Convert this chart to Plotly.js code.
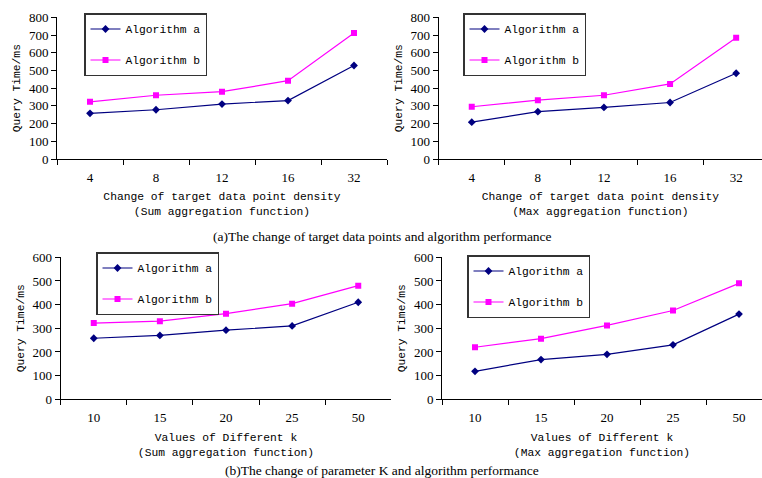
<!DOCTYPE html>
<html>
<head>
<meta charset="utf-8">
<script src="https://cdn.plot.ly/plotly-3.0.1.min.js"></script>
<style>html,body{margin:0;padding:0;background:#fff;}#chart{width:762px;height:478px;}</style>
</head>
<body>
<div id="chart"></div>
<script>
const densityCats = ["4", "8", "12", "16", "32"];
const kCats = ["10", "15", "20", "25", "50"];
const sumDensityA = [258, 278, 310, 330, 528];
const sumDensityB = [323, 360, 380, 442, 712];
const maxDensityA = [208, 267, 291, 319, 484];
const maxDensityB = [295, 332, 360, 424, 684];
const sumKA = [258, 270, 292, 310, 410];
const sumKB = [322, 330, 362, 404, 480];
const maxKA = [118, 168, 190, 230, 360];
const maxKB = [220, 256, 312, 375, 490];
const seriesNames = ["Algorithm a", "Algorithm b"];
const captionA = "(a)The change of target data points and algorithm performance";
const captionB = "(b)The change of parameter K and algorithm performance";

const W = 762, H = 478;
const mono = "Liberation Mono, DejaVu Sans Mono, monospace";
const serif = "Liberation Serif, Times New Roman, serif";
const colA = "#000080", colB = "#FF00FF";

function pair(x, a, b, n) {
  const xa = n === 1 ? "x" : "x" + n, ya = n === 1 ? "y" : "y" + n;
  const lg = n === 1 ? "legend" : "legend" + n;
  return [
    {x: x, y: a, xaxis: xa, yaxis: ya, type: "scatter", mode: "lines+markers", name: seriesNames[0],
     legend: lg, legendgroup: "a" + n, line: {color: colA, width: 1.2},
     marker: {symbol: "diamond", size: 6, color: colA}},
    {x: x, y: b, xaxis: xa, yaxis: ya, type: "scatter", mode: "lines+markers", name: seriesNames[1],
     legend: lg, legendgroup: "b" + n, line: {color: colB, width: 1.2},
     marker: {symbol: "square", size: 6, color: colB}}
  ];
}
const data = [].concat(
  pair(densityCats, sumDensityA, sumDensityB, 1),
  pair(densityCats, maxDensityA, maxDensityB, 2),
  pair(kCats, sumKA, sumKB, 3),
  pair(kCats, maxKA, maxKB, 4)
);

function xax(d0, d1, r1, title, anchor, standoff) {
  return {domain: [d0 / W, Math.min(d1 / W, 1)], range: [-0.5, r1], type: "category", anchor: anchor,
    showline: true, linecolor: "#000", linewidth: 1, showgrid: false, zeroline: false,
    ticks: "outside", ticklen: 5, tickcolor: "#000", tickson: "boundaries", ticklabelstandoff: 6,
    tickfont: {family: serif, size: 13, color: "#000"},
    title: {text: title, font: {family: mono, size: 11.3, color: "#000"}, standoff: standoff},
    automargin: false, fixedrange: true};
}
function yax(top, bottom, max, anchor) {
  return {domain: [1 - bottom / H, 1 - top / H], range: [0, max], dtick: 100, anchor: anchor,
    showline: true, linecolor: "#000", linewidth: 1, showgrid: false, zeroline: false,
    ticks: "outside", ticklen: 5, tickcolor: "#000",
    tickfont: {family: serif, size: 13, color: "#000"},
    title: {text: "Query Time/ms", font: {family: mono, size: 11.3, color: "#000"}, standoff: 5},
    automargin: false, fixedrange: true};
}
function leg(x, y) {
  return {x: x / W, y: 1 - y / H, xanchor: "left", yanchor: "top", bgcolor: "#fff",
    bordercolor: "#333", borderwidth: 1.5, font: {family: mono, size: 11.3, color: "#000"},
    traceorder: "grouped", tracegroupgap: 12};
}

const layout = {
  width: W, height: H, margin: {l: 0, r: 0, t: 0, b: 0},
  paper_bgcolor: "#fff", plot_bgcolor: "#fff", showlegend: true,
  xaxis: xax(57, 387, 4.5, "Change of target data point density<br>(Sum aggregation function)", "y", 8),
  yaxis: yax(17.3, 159, 800, "x"),
  xaxis2: xax(438.7, 800, -0.5 + 323.3 / 66.1, "Change of target data point density<br>(Max aggregation function)", "y2", 8),
  yaxis2: yax(17.3, 159, 800, "x2"),
  xaxis3: xax(60.7, 391.3, 4.5, "Values of Different k<br>(Sum aggregation function)", "y3", 9),
  yaxis3: yax(257.3, 399.3, 600, "x3"),
  xaxis4: xax(442, 800, -0.5 + 320 / 66, "Values of Different k<br>(Max aggregation function)", "y4", 9),
  yaxis4: yax(257.3, 399.3, 600, "x4"),
  legend: leg(84, 13),
  legend2: leg(463, 13),
  legend3: leg(96, 252),
  legend4: leg(467, 255),
  annotations: [
    {text: captionA, x: 382 / W, y: 1 - 236 / H, xref: "paper", yref: "paper", xanchor: "center", yanchor: "middle",
     showarrow: false, font: {family: serif, size: 13.5, color: "#000"}},
    {text: captionB, x: 382 / W, y: 1 - 470 / H, xref: "paper", yref: "paper", xanchor: "center", yanchor: "middle",
     showarrow: false, font: {family: serif, size: 13.5, color: "#000"}}
  ]
};
Plotly.newPlot("chart", data, layout, {staticPlot: true, displayModeBar: false});
</script>
</body>
</html>
